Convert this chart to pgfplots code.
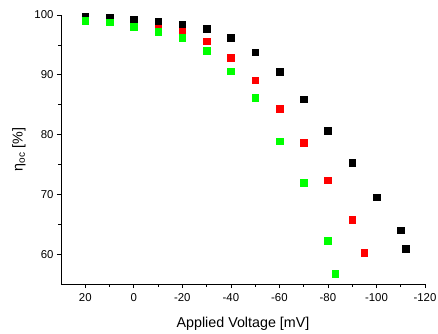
\documentclass[border=0pt]{standalone}
\usepackage{pgfplots}
\pgfplotsset{compat=1.18}
\usepackage{fontspec}
\setmainfont{Liberation Sans}
\definecolor{myred}{RGB}{255,0,0}
\definecolor{mygreen}{RGB}{0,255,0}
\begin{document}
\begin{tikzpicture}[x=1pt,y=1pt]
\path[use as bounding box] (-61,-49) rectangle (377,284);
\begin{axis}[at={(0,0)}, anchor=south west, scale only axis,
  width=364pt, height=269pt,
  x dir=reverse, xmin=-120, xmax=30, ymin=55, ymax=100,
  axis x line*=bottom, axis y line*=left,
  xtick={-120,-100,...,20}, ytick={60,70,...,100},
  minor x tick num=1, minor y tick num=1,
  tick align=outside, major tick length=4pt, minor tick length=2.5pt,
  tick style={black, line width=0.6pt},
  axis line style={line width=0.8pt},
  /pgf/number format/assume math mode=true,
  ticklabel style={font=\fontsize{11.4}{13}\selectfont},
  xticklabel style={yshift=-2pt},
  label style={font=\fontsize{14.3}{16}\selectfont},
  xlabel style={yshift=-9pt},
  ylabel style={yshift=2pt},
  xlabel={Applied Voltage [mV]},
  ylabel={η\textsubscript{oc} [\%]},
  clip=false,
]
\addplot[only marks, mark=square*, mark size=3.3pt, mark options={fill=myred, draw=myred, line width=0.3pt}] coordinates {
(20,99.4) (10,99.2) (0,99.0) (-10,98.3) (-20,97.4) (-30,95.65) (-40,92.9) (-50,89.1) (-60,84.3) (-70,78.6) (-80,72.4) (-90,65.8) (-95,60.2)
};
\addplot[only marks, mark=square*, mark size=3.3pt, mark options={fill=black, draw=black, line width=0.3pt}] coordinates {
(20,99.7) (10,99.6) (0,99.3) (-10,99.0) (-20,98.5) (-30,97.7) (-40,96.2) (-50,93.8) (-60,90.5) (-70,85.9) (-80,80.7) (-90,75.3) (-100,69.5) (-110,64.0) (-112,60.9)
};
\addplot[only marks, mark=square*, mark size=3.3pt, mark options={fill=mygreen, draw=mygreen, line width=0.3pt}] coordinates {
(20,99.05) (10,98.8) (0,98.1) (-10,97.2) (-20,96.2) (-30,94.0) (-40,90.6) (-50,86.2) (-60,78.9) (-70,72.0) (-80,62.3) (-83,56.7)
};
\end{axis}
\end{tikzpicture}
\end{document}
